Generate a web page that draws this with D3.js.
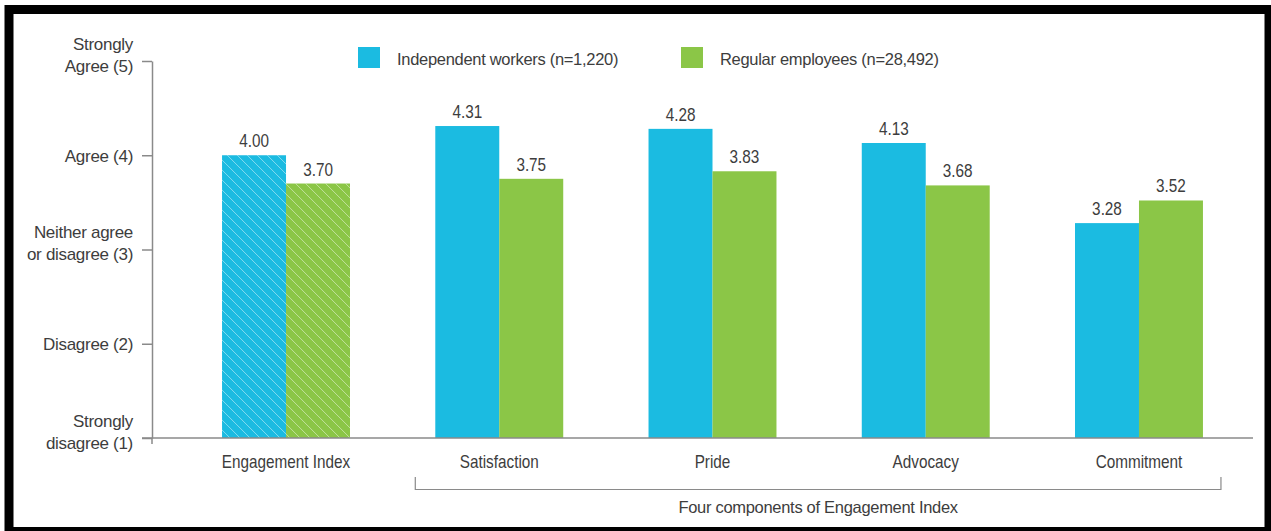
<!DOCTYPE html>
<html>
<head>
<meta charset="utf-8">
<script src="https://cdn.jsdelivr.net/npm/d3@7"></script>
<style>
  html, body { margin: 0; padding: 0; background: #fff; }
  svg { display: block; }
</style>
</head>
<body>
<svg id="chart" width="1271" height="531"></svg>
<script>
// ---- data ----
const categories = ["Engagement Index", "Satisfaction", "Pride", "Advocacy", "Commitment"];
const seriesNames = ["Independent workers (n=1,220)", "Regular employees (n=28,492)"];
const independentValues = [4.00, 4.31, 4.28, 4.13, 3.28];
const regularValues = [3.70, 3.75, 3.83, 3.68, 3.52];
const yTickValues = [1, 2, 3, 4, 5];
const yTickLabels = [
  ["Strongly", "disagree (1)"],
  ["Disagree (2)"],
  ["Neither agree", "or disagree (3)"],
  ["Agree (4)"],
  ["Strongly", "Agree (5)"]
];
const groupCaption = "Four components of Engagement Index";
const hatchedCategories = ["Engagement Index"];

// ---- styles ----
const colors = ["#1bbbe1", "#8bc647"];
const axisColor = "#8a8a8a";
const textColor = "#3d3d3d";
const font = "'Liberation Sans', Arial, sans-serif";
const narrowScale = 0.85;

const svg = d3.select("#chart");

// frame
svg.append("rect")
  .attr("x", 9).attr("y", 9.5).attr("width", 1260).attr("height", 522)
  .attr("fill", "none").attr("stroke", "#000").attr("stroke-width", 9);

// hatch pattern
const defs = svg.append("defs");
const pat = defs.append("pattern")
  .attr("id", "hatch").attr("patternUnits", "userSpaceOnUse")
  .attr("width", 10).attr("height", 10);
pat.append("path")
  .attr("d", "M0,0 L10,10 M-2,8 L2,12 M8,-2 L12,2")
  .attr("stroke", "rgba(255,255,255,0.45)").attr("stroke-width", 1);

// scales
const y = d3.scaleLinear().domain([1, 5]).range([438, 61]);
const x0 = d3.scaleBand().domain(categories).range([179.4, 1245.6])
  .paddingInner(0.4).paddingOuter(0.2);
const x1 = d3.scaleBand().domain(seriesNames).range([0, x0.bandwidth()]);

const data = categories.map((c, i) => ({
  category: c,
  values: [
    { series: seriesNames[0], value: independentValues[i], idx: 0 },
    { series: seriesNames[1], value: regularValues[i], idx: 1 }
  ]
}));

// bars
const groups = svg.append("g").selectAll("g").data(data).join("g")
  .attr("transform", d => `translate(${x0(d.category)},0)`);

groups.each(function(d) {
  const g = d3.select(this);
  const hatched = hatchedCategories.includes(d.category);
  g.selectAll("rect.bar").data(d.values).join("rect")
    .attr("class", "bar")
    .attr("x", v => x1(v.series))
    .attr("y", v => y(v.value))
    .attr("width", x1.bandwidth())
    .attr("height", v => y(1) - y(v.value))
    .attr("fill", v => colors[v.idx]);
  if (hatched) {
    g.selectAll("rect.hatch").data(d.values).join("rect")
      .attr("class", "hatch")
      .attr("x", v => x1(v.series))
      .attr("y", v => y(v.value))
      .attr("width", x1.bandwidth())
      .attr("height", v => y(1) - y(v.value))
      .attr("fill", "url(#hatch)");
  }
  g.selectAll("text.val").data(d.values).join("text")
    .attr("class", "val")
    .attr("transform", v => `translate(${x1(v.series) + x1.bandwidth() / 2},${y(v.value) - 8}) scale(${narrowScale},1)`)
    .attr("text-anchor", "middle")
    .attr("font-family", font)
    .attr("font-size", 18)
    .attr("fill", textColor)
    .text(v => v.value.toFixed(2));
});

// y axis
const yAxis = d3.axisLeft(y).tickValues(yTickValues).tickSize(10).tickSizeOuter(0)
  .tickPadding(9).tickFormat("");
const yg = svg.append("g").attr("transform", "translate(152,0)").call(yAxis);
yg.selectAll("path, line").attr("stroke", axisColor).attr("stroke-width", 1.5);
yg.append("line").attr("x1", 0).attr("x2", 0).attr("y1", y(1)).attr("y2", y(1) + 6)
  .attr("stroke", axisColor).attr("stroke-width", 1.5);
yg.selectAll(".tick text").each(function(v) {
  const lines = yTickLabels[yTickValues.indexOf(v)];
  const t = d3.select(this)
    .attr("font-family", font)
    .attr("font-size", 17)
    .attr("fill", textColor)
    .attr("dy", null)
    .attr("x", -19)
    .attr("text-anchor", "end")
    .attr("letter-spacing", -0.3);
  const n = lines.length;
  const lastBase = n > 1 ? 10 : 6;
  lines.forEach((ln, i) => {
    t.append("tspan").attr("x", -19).attr("y", lastBase - (n - 1 - i) * 22).text(ln);
  });
});

// x axis
const xAxis = d3.axisBottom(x0).tickSize(0).tickSizeOuter(0).tickPadding(0);
const xg = svg.append("g").attr("transform", `translate(0,${y(1)})`).call(xAxis);
xg.select(".domain").remove();
xg.append("line").attr("x1", 142).attr("x2", 1253).attr("y1", 0).attr("y2", 0)
  .attr("stroke", axisColor).attr("stroke-width", 1.5);
xg.selectAll(".tick text")
  .attr("y", null).attr("dy", null)
  .attr("transform", `translate(0,30) scale(${narrowScale},1)`)
  .attr("font-family", font)
  .attr("font-size", 18)
  .attr("fill", textColor);

// bracket for four components
const bx0 = x0(categories[1]) - 20;
const bx1 = x0(categories[categories.length - 1]) + x0.bandwidth() + 18;
svg.append("path")
  .attr("d", `M${bx0},477 V489.5 H${bx1} V477`)
  .attr("fill", "none").attr("stroke", axisColor).attr("stroke-width", 1.2);
svg.append("text")
  .attr("x", (bx0 + bx1) / 2).attr("y", 513)
  .attr("text-anchor", "middle")
  .attr("font-family", font)
  .attr("font-size", 16.5)
  .attr("letter-spacing", -0.3)
  .attr("fill", textColor)
  .text(groupCaption);

// legend
const legendX = [358, 681];
const legend = svg.append("g");
seriesNames.forEach((s, i) => {
  legend.append("rect").attr("x", legendX[i]).attr("y", 47).attr("width", 22).attr("height", 21)
    .attr("fill", colors[i]);
  legend.append("text").attr("x", legendX[i] + 39).attr("y", 65)
    .attr("font-family", font).attr("font-size", 16.5)
    .attr("letter-spacing", -0.3)
    .attr("fill", textColor).text(s);
});
</script>
</body>
</html>
